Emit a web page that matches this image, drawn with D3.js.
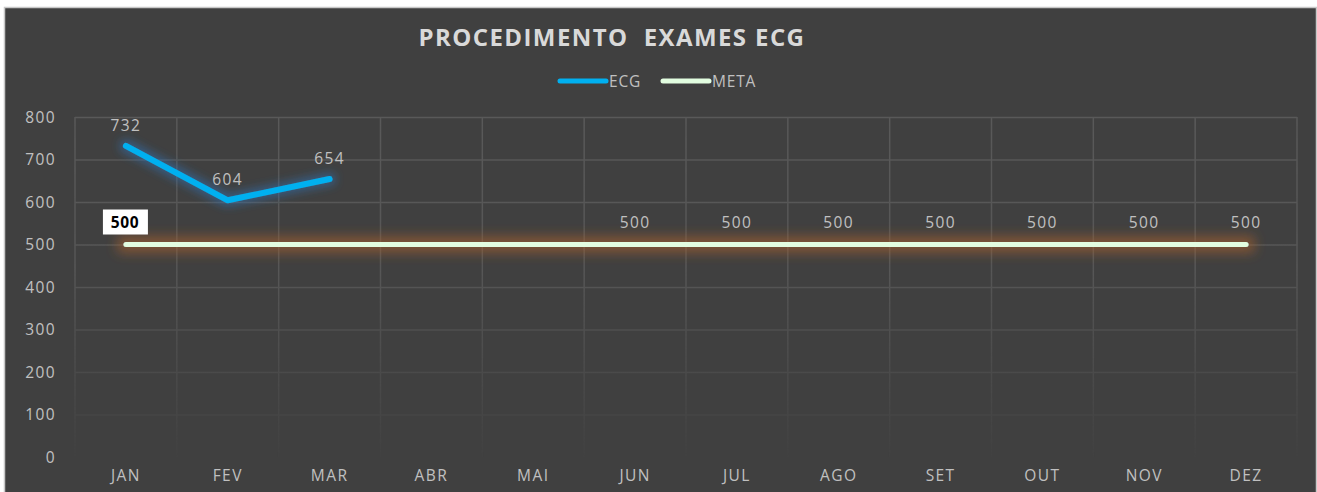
<!DOCTYPE html>
<html>
<head>
<meta charset="utf-8">
<script src="https://cdn.jsdelivr.net/npm/d3@7"></script>
<style>
  body { margin: 0; background: #ffffff; }
  svg { display: block; }
  svg text { font-family: "Open Sans", sans-serif; }
</style>
</head>
<body>
<div id="chart"></div>
<script>
/* DATA */
const months = ["JAN", "FEV", "MAR", "ABR", "MAI", "JUN", "JUL", "AGO", "SET", "OUT", "NOV", "DEZ"];
const ecgValues = [732, 604, 654];
const metaValues = [500, 500, 500, 500, 500, 500, 500, 500, 500, 500, 500, 500];
// which months of META get a label (JAN boxed, JUN..DEZ plain)
const metaLabelShown = [true, false, false, false, false, true, true, true, true, true, true, true];
const yTicks = [0, 100, 200, 300, 400, 500, 600, 700, 800];

/* CONSTANTS */
const width = 1317;
const height = 492;
const plot = { left: 75, right: 1297, top: 117, bottom: 457 };
const labelFont = "15.5px";
const labelSpacing = "1.4px";
const labelColor = "#c0c0c0";

const svg = d3.select("#chart")
  .append("svg")
  .attr("width", width)
  .attr("height", height);

const defs = svg.append("defs");

// glow filters (userSpaceOnUse so the flat META line still gets one)
function glow(id, color, radius, dev, op) {
  const f = defs.append("filter").attr("id", id)
    .attr("filterUnits", "userSpaceOnUse")
    .attr("x", 0).attr("y", 0).attr("width", width).attr("height", height);
  f.append("feMorphology").attr("in", "SourceAlpha").attr("operator", "dilate").attr("radius", radius).attr("result", "d");
  f.append("feGaussianBlur").attr("in", "d").attr("stdDeviation", dev).attr("result", "b");
  f.append("feFlood").attr("flood-color", color).attr("flood-opacity", op);
  f.append("feComposite").attr("in2", "b").attr("operator", "in").attr("result", "g");
  const m = f.append("feMerge");
  m.append("feMergeNode").attr("in", "g");
  m.append("feMergeNode").attr("in", "SourceGraphic");
}
glow("glowBlue", "#2f6fb0", 3, 4, 0.55);
glow("glowOrange", "#a9602c", 6, 6, 0.6);

// fading gridlines toward the bottom
const grad = defs.append("linearGradient").attr("id", "fade")
  .attr("gradientUnits", "userSpaceOnUse")
  .attr("x1", 0).attr("y1", plot.top).attr("x2", 0).attr("y2", plot.bottom);
grad.append("stop").attr("offset", "0%").attr("stop-color", "#fff").attr("stop-opacity", 1);
grad.append("stop").attr("offset", "45%").attr("stop-color", "#fff").attr("stop-opacity", 0.9);
grad.append("stop").attr("offset", "100%").attr("stop-color", "#fff").attr("stop-opacity", 0.05);
defs.append("mask").attr("id", "gridMask")
  .attr("maskUnits", "userSpaceOnUse")
  .attr("x", 0).attr("y", 0).attr("width", width).attr("height", height)
  .append("rect").attr("x", 0).attr("y", plot.top - 2).attr("width", width).attr("height", plot.bottom - plot.top + 4)
  .attr("fill", "url(#fade)");

// background
svg.append("rect").attr("x", 0).attr("y", 0).attr("width", width).attr("height", height).attr("fill", "#ffffff");
svg.append("rect")
  .attr("x", 4.5).attr("y", 7.5).attr("width", width - 5).attr("height", height)
  .attr("fill", "#404040").attr("stroke", "#c8c8c8").attr("stroke-width", 1.5);

/* SCALES */
const xScale = d3.scaleBand().domain(months).range([plot.left, plot.right]);
const xPos = m => xScale(m) + xScale.bandwidth() / 2;
const yScale = d3.scaleLinear().domain([0, 800]).range([plot.bottom, plot.top]);

/* GRID */
const grid = svg.append("g").attr("mask", "url(#gridMask)");
grid.selectAll(".hgrid").data(yTicks.filter(d => d > 0))
  .join("line")
  .attr("x1", plot.left).attr("x2", plot.right)
  .attr("y1", d => yScale(d) + 0.5).attr("y2", d => yScale(d) + 0.5)
  .attr("stroke", "#595959").attr("stroke-width", 1.5);
grid.selectAll(".vgrid").data(months.concat(["_end"]))
  .join("line")
  .attr("x1", (d, i) => i < 12 ? xScale(d) : plot.right)
  .attr("x2", (d, i) => i < 12 ? xScale(d) : plot.right)
  .attr("y1", plot.top).attr("y2", plot.bottom)
  .attr("stroke", "#595959").attr("stroke-width", 1.5);

/* AXES */
const yAxis = svg.append("g")
  .attr("transform", `translate(${56},0)`)
  .call(d3.axisLeft(yScale).tickValues(yTicks).tickSize(0).tickPadding(0));
yAxis.attr("font-family", null).attr("font-size", null);
yAxis.select(".domain").remove();
yAxis.selectAll("text").attr("fill", labelColor).style("font-size", labelFont)
  .style("letter-spacing", labelSpacing).attr("dy", "0.35em");

const xAxis = svg.append("g")
  .attr("transform", `translate(0,${plot.bottom})`)
  .call(d3.axisBottom(xScale).tickSize(0).tickPadding(13));
xAxis.attr("font-family", null).attr("font-size", null);
xAxis.select(".domain").remove();
xAxis.selectAll("text").attr("fill", labelColor).style("font-size", labelFont)
  .style("letter-spacing", labelSpacing);

/* LINES */
const line = d3.line().x((d, i) => xPos(months[i])).y(d => yScale(d));

svg.append("path")
  .datum(metaValues)
  .attr("d", line)
  .attr("fill", "none")
  .attr("stroke", "#e2fde0")
  .attr("stroke-width", 5)
  .attr("stroke-linecap", "round")
  .attr("filter", "url(#glowOrange)");

svg.append("path")
  .datum(ecgValues)
  .attr("d", line)
  .attr("fill", "none")
  .attr("stroke", "#00b0f0")
  .attr("stroke-width", 6)
  .attr("stroke-linecap", "round")
  .attr("stroke-linejoin", "round")
  .attr("filter", "url(#glowBlue)");

/* LABELS */
svg.selectAll(".ecg-label").data(ecgValues)
  .join("text")
  .attr("x", (d, i) => xPos(months[i]))
  .attr("y", d => yScale(d) - 15)
  .attr("text-anchor", "middle")
  .attr("fill", labelColor)
  .style("font-size", labelFont)
  .style("letter-spacing", labelSpacing)
  .text(d => d);

const metaLabels = metaValues.map((v, i) => ({ v, m: months[i], i })).filter(d => metaLabelShown[d.i]);

svg.selectAll(".meta-box").data(metaLabels.filter(d => d.i === 0))
  .join("rect")
  .attr("x", d => xPos(d.m) - 23)
  .attr("y", d => yScale(d.v) - 35)
  .attr("width", 45).attr("height", 25)
  .attr("fill", "#ffffff");

svg.selectAll(".meta-label").data(metaLabels)
  .join("text")
  .attr("x", d => xPos(d.m) - (d.i === 0 ? 1 : 0))
  .attr("y", d => yScale(d.v) - 17)
  .attr("text-anchor", "middle")
  .attr("fill", d => d.i === 0 ? "#000000" : labelColor)
  .style("font-weight", d => d.i === 0 ? "bold" : "normal")
  .style("font-size", labelFont)
  .style("letter-spacing", d => d.i === 0 ? "0.6px" : labelSpacing)
  .text(d => d.v);

/* TITLE */
svg.append("text")
  .attr("x", 612).attr("y", 46)
  .attr("text-anchor", "middle")
  .attr("fill", "#d9d9d9")
  .attr("xml:space", "preserve")
  .style("white-space", "pre")
  .style("font-weight", "bold")
  .style("font-size", "24px")
  .style("letter-spacing", "1.4px")
  .text("PROCEDIMENTO  EXAMES ECG");

/* LEGEND */
const legendItems = [
  { name: "ECG", color: "#00b0f0", x: 558 },
  { name: "META", color: "#e2fde0", x: 661 }
];
const legend = svg.selectAll(".legend").data(legendItems).join("g")
  .attr("transform", d => `translate(${d.x},81)`);
legend.append("line")
  .attr("x1", 2).attr("x2", 48).attr("y1", 0).attr("y2", 0)
  .attr("stroke", d => d.color).attr("stroke-width", 5).attr("stroke-linecap", "round");
legend.append("text")
  .attr("x", 51).attr("y", 5.5)
  .attr("fill", labelColor)
  .style("font-size", labelFont)
  .style("letter-spacing", "0.8px")
  .text(d => d.name);
</script>
</body>
</html>
